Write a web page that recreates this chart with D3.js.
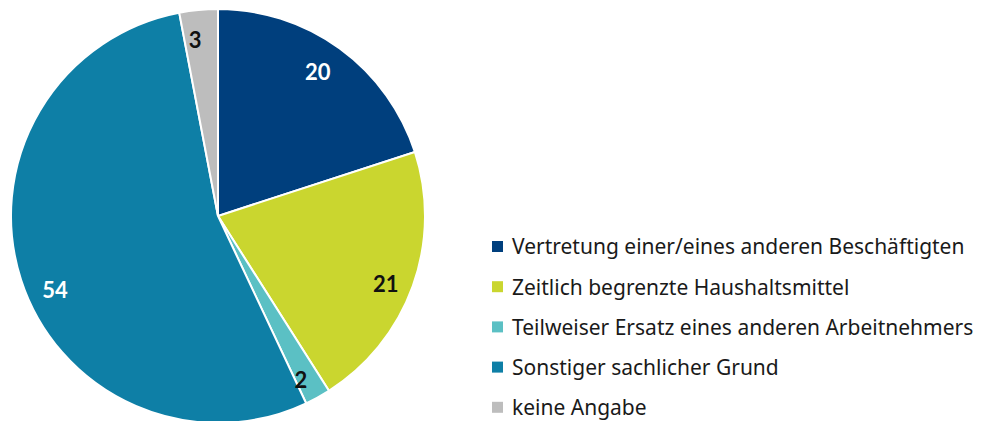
<!DOCTYPE html>
<html><head><meta charset="utf-8">
<script src="https://cdn.jsdelivr.net/npm/d3@7/dist/d3.min.js"></script>
<style>body{margin:0;background:#fff}svg{display:block}</style>
</head><body><svg id="c" width="986" height="421"></svg>
<script>
const categories = ["Vertretung einer/eines anderen Beschäftigten","Zeitlich begrenzte Haushaltsmittel","Teilweiser Ersatz eines anderen Arbeitnehmers","Sonstiger sachlicher Grund","keine Angabe"];
const values = [20, 21, 2, 54, 3];
const colors = ["#003f7d","#cad62f","#5bc0c4","#0e7fa6","#bdbdbd"];
const labelColors = ["#fff","#111","#111","#fff","#111"];
const labelRadius = [175, 181, 184, 179, 177];
const labelAngleShift = [-1.2, 2.2, 2.0, -6.4, -2.0]; // degrees

const svg = d3.select("#c");
const font = "'Noto Sans', sans-serif";
const cx = 218, cy = 216, R = 207;
const pie = d3.pie().sort(null).value(d => d)(values);
const arc = d3.arc().innerRadius(0).outerRadius(R);
const g = svg.append("g").attr("transform", `translate(${cx},${cy})`);
g.selectAll("path").data(pie).join("path")
  .attr("d", arc).attr("fill", (d,i) => colors[i])
  .attr("stroke", "#fff").attr("stroke-width", 2);
g.selectAll("text").data(pie).join("text")
  .attr("transform", (d,i) => {
    const a = (d.startAngle + d.endAngle)/2 + labelAngleShift[i]*Math.PI/180, r = labelRadius[i];
    return `translate(${r*Math.sin(a)},${-r*Math.cos(a)})`;
  })
  .attr("text-anchor","middle").attr("dy","0.36em")
  .attr("font-family", "Lato, sans-serif").attr("font-weight","bold").attr("font-size",22)
  .attr("fill",(d,i)=>labelColors[i]).text(d=>d.data);

const leg = svg.append("g").attr("transform","translate(492,247)");
const rows = leg.selectAll("g").data(categories).join("g")
  .attr("transform",(d,i)=>`translate(0,${i*40.2})`);
rows.append("rect").attr("x",0).attr("y",-6).attr("width",11).attr("height",11)
  .attr("fill",(d,i)=>colors[i]);
rows.append("text").attr("x",20).attr("dy","0.35em")
  .attr("font-family",font).attr("font-size",21).attr("fill","#1a1a1a").text(d=>d);
</script></body></html>
